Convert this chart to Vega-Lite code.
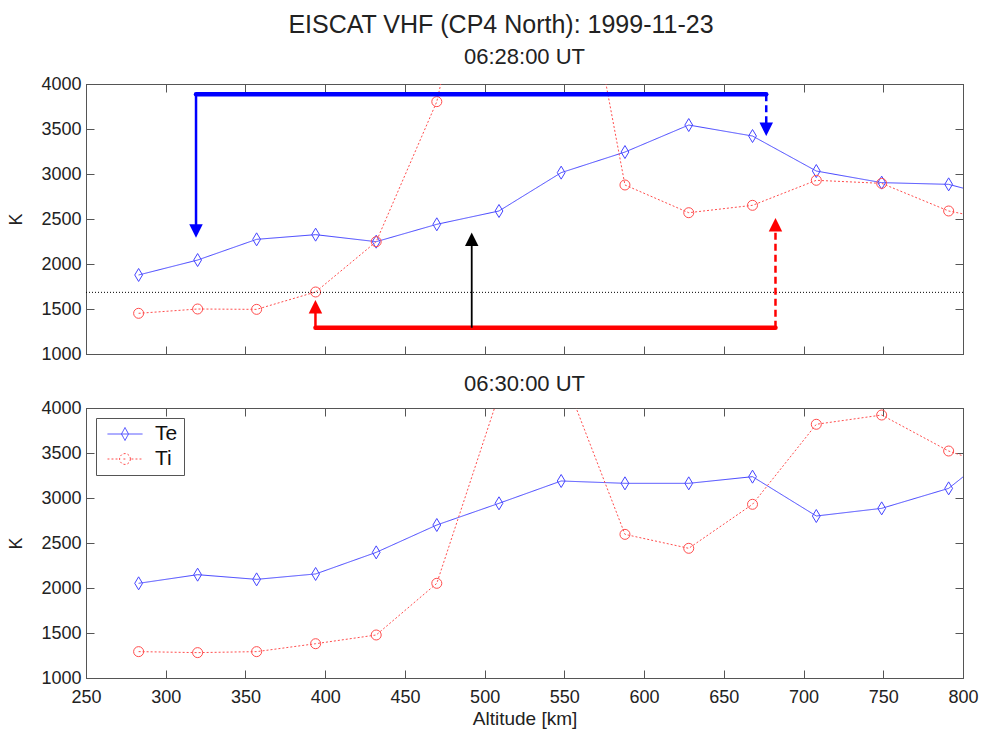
{
  "$schema": "https://vega.github.io/schema/vega-lite/v6.json",
  "background": "white",
  "padding": {"left": 7, "top": 12, "right": 3, "bottom": 0},
  "title": {"text": "EISCAT VHF (CP4 North): 1999-11-23", "fontSize": 25, "fontWeight": "normal", "color": "#222", "dx": 8, "offset": 8, "anchor": "middle"},
  "datasets": {
    "t0628": [
      {"series": "Te", "alt": 283, "K": 1878}, {"series": "Te", "alt": 320, "K": 2044}, {"series": "Te", "alt": 357, "K": 2274},
      {"series": "Te", "alt": 394, "K": 2326}, {"series": "Te", "alt": 432, "K": 2248}, {"series": "Te", "alt": 470, "K": 2441},
      {"series": "Te", "alt": 509, "K": 2589}, {"series": "Te", "alt": 548, "K": 3015}, {"series": "Te", "alt": 588, "K": 3244},
      {"series": "Te", "alt": 628, "K": 3544}, {"series": "Te", "alt": 668, "K": 3422}, {"series": "Te", "alt": 708, "K": 3033},
      {"series": "Te", "alt": 749, "K": 2904}, {"series": "Te", "alt": 791, "K": 2885}, {"series": "Te", "alt": 833, "K": 2690},
      {"series": "Ti", "alt": 283, "K": 1452}, {"series": "Ti", "alt": 320, "K": 1500}, {"series": "Ti", "alt": 357, "K": 1496},
      {"series": "Ti", "alt": 394, "K": 1689}, {"series": "Ti", "alt": 432, "K": 2248}, {"series": "Ti", "alt": 470, "K": 3804},
      {"series": "Ti", "alt": 509, "K": 6900}, {"series": "Ti", "alt": 548, "K": 6650}, {"series": "Ti", "alt": 588, "K": 2878},
      {"series": "Ti", "alt": 628, "K": 2570}, {"series": "Ti", "alt": 668, "K": 2652}, {"series": "Ti", "alt": 708, "K": 2930},
      {"series": "Ti", "alt": 749, "K": 2896}, {"series": "Ti", "alt": 791, "K": 2589}, {"series": "Ti", "alt": 833, "K": 2440}
    ],
    "t0630": [
      {"series": "Te", "alt": 283, "K": 2052}, {"series": "Te", "alt": 320, "K": 2148}, {"series": "Te", "alt": 357, "K": 2096},
      {"series": "Te", "alt": 394, "K": 2156}, {"series": "Te", "alt": 432, "K": 2396}, {"series": "Te", "alt": 470, "K": 2700},
      {"series": "Te", "alt": 509, "K": 2941}, {"series": "Te", "alt": 548, "K": 3189}, {"series": "Te", "alt": 588, "K": 3163},
      {"series": "Te", "alt": 628, "K": 3163}, {"series": "Te", "alt": 668, "K": 3237}, {"series": "Te", "alt": 708, "K": 2800},
      {"series": "Te", "alt": 749, "K": 2885}, {"series": "Te", "alt": 791, "K": 3107}, {"series": "Te", "alt": 833, "K": 3700},
      {"series": "Ti", "alt": 283, "K": 1293}, {"series": "Ti", "alt": 320, "K": 1282}, {"series": "Ti", "alt": 357, "K": 1293},
      {"series": "Ti", "alt": 394, "K": 1381}, {"series": "Ti", "alt": 432, "K": 1478}, {"series": "Ti", "alt": 470, "K": 2052},
      {"series": "Ti", "alt": 509, "K": 4150}, {"series": "Ti", "alt": 548, "K": 4430}, {"series": "Ti", "alt": 588, "K": 2596},
      {"series": "Ti", "alt": 628, "K": 2441}, {"series": "Ti", "alt": 668, "K": 2930}, {"series": "Ti", "alt": 708, "K": 3819},
      {"series": "Ti", "alt": 749, "K": 3922}, {"series": "Ti", "alt": 791, "K": 3522}, {"series": "Ti", "alt": 833, "K": 3270}
    ],
    "refline": [{"K": 1685}],
    "segments": [
      {"seg": "blueH", "x": 319, "x2": 676.6, "y": 3885, "y2": 3885},
      {"seg": "blueL", "x": 319, "x2": 319, "y": 3885, "y2": 2420},
      {"seg": "blueR", "x": 676.6, "x2": 676.6, "y": 3885, "y2": 3560},
      {"seg": "redH", "x": 393.9, "x2": 682.4, "y": 1292, "y2": 1292},
      {"seg": "redL", "x": 393.9, "x2": 393.9, "y": 1292, "y2": 1470},
      {"seg": "redR", "x": 682.4, "x2": 682.4, "y": 1292, "y2": 2380},
      {"seg": "black", "x": 491.9, "x2": 491.9, "y": 1292, "y2": 2220}
    ],
    "heads": [
      {"head": "blue", "x": 319, "y": 2366},
      {"head": "blue", "x": 676.6, "y": 3496},
      {"head": "red", "x": 393.9, "y": 1524},
      {"head": "red", "x": 682.4, "y": 2437},
      {"head": "black", "x": 491.9, "y": 2274}
    ]
  },
  "spacing": 54,
  "bounds": "flush",
  "resolve": {"scale": {"color": "independent", "strokeDash": "independent"}, "legend": {"color": "independent"}},
  "vconcat": [
    {
      "width": 877,
      "height": 270,
      "title": {"text": "06:28:00 UT", "fontSize": 22, "fontWeight": "normal", "color": "#222", "offset": 6},
      "resolve": {"axis": {"x": "independent", "y": "independent"}},
      "layer": [
        {
          "data": {"name": "t0628"},
          "mark": {"type": "line", "strokeWidth": 1, "clip": true},
          "encoding": {
            "x": {"field": "alt", "type": "quantitative", "scale": {"domain": [250, 800], "nice": false, "zero": false},
                  "axis": {"orient": "bottom", "values": [250, 300, 350, 400, 450, 500, 550, 600, 650, 700, 750, 800], "labels": false, "title": null}},
            "y": {"field": "K", "type": "quantitative", "scale": {"domain": [1000, 4000], "nice": false, "zero": false},
                  "axis": {"orient": "left", "values": [1000, 1500, 2000, 2500, 3000, 3500, 4000], "format": "d", "title": "K"}},
            "color": {"field": "series", "type": "nominal", "scale": {"domain": ["Te", "Ti"], "range": ["#4444ff", "#ff4d4d"]}, "legend": null},
            "strokeDash": {"field": "series", "type": "nominal", "scale": {"domain": ["Te", "Ti"], "range": [[1, 0], [2, 2]]}, "legend": null}
          }
        },
        {
          "data": {"name": "t0628"},
          "transform": [{"filter": "datum.series === 'Te'"}],
          "mark": {"type": "point", "shape": "M0,-1L0.6,0L0,1L-0.6,0Z", "size": 169, "filled": false, "color": "#4444ff", "strokeWidth": 1, "opacity": 1, "clip": true},
          "encoding": {
            "x": {"field": "alt", "type": "quantitative", "scale": {"domain": [250, 800], "nice": false, "zero": false},
                  "axis": {"orient": "top", "values": [250, 300, 350, 400, 450, 500, 550, 600, 650, 700, 750, 800], "labels": false, "title": null}},
            "y": {"field": "K", "type": "quantitative", "scale": {"domain": [1000, 4000], "nice": false, "zero": false},
                  "axis": {"orient": "right", "values": [1000, 1500, 2000, 2500, 3000, 3500, 4000], "labels": false, "title": null}}
          }
        },
        {
          "data": {"name": "t0628"},
          "transform": [{"filter": "datum.series === 'Ti'"}],
          "mark": {"type": "point", "shape": "circle", "size": 100, "filled": false, "color": "#ff4d4d", "strokeWidth": 1, "opacity": 1, "clip": true},
          "encoding": {
            "x": {"field": "alt", "type": "quantitative", "scale": {"domain": [250, 800], "nice": false, "zero": false}, "axis": null},
            "y": {"field": "K", "type": "quantitative", "scale": {"domain": [1000, 4000], "nice": false, "zero": false}, "axis": null}
          }
        },
        {
          "data": {"name": "refline"},
          "mark": {"type": "rule", "color": "black", "strokeWidth": 1, "strokeDash": [1, 2]},
          "encoding": {
            "y": {"field": "K", "type": "quantitative", "scale": {"domain": [1000, 4000], "nice": false, "zero": false}, "axis": null}
          }
        },
        {
          "data": {"name": "segments"},
          "transform": [{"filter": "datum.seg === 'blueH'"}],
          "mark": {"type": "rule", "color": "#0000ff", "strokeWidth": 4.5, "strokeCap": "round"},
          "encoding": {
            "x": {"field": "x", "type": "quantitative", "scale": {"domain": [250, 800], "nice": false, "zero": false}, "axis": null},
            "x2": {"field": "x2"},
            "y": {"field": "y", "type": "quantitative", "scale": {"domain": [1000, 4000], "nice": false, "zero": false}, "axis": null},
            "y2": {"field": "y2"}
          }
        },
        {
          "data": {"name": "segments"},
          "transform": [{"filter": "datum.seg === 'blueL'"}],
          "mark": {"type": "rule", "color": "#0000ff", "strokeWidth": 2.5},
          "encoding": {
            "x": {"field": "x", "type": "quantitative", "scale": {"domain": [250, 800], "nice": false, "zero": false}, "axis": null},
            "x2": {"field": "x2"},
            "y": {"field": "y", "type": "quantitative", "scale": {"domain": [1000, 4000], "nice": false, "zero": false}, "axis": null},
            "y2": {"field": "y2"}
          }
        },
        {
          "data": {"name": "segments"},
          "transform": [{"filter": "datum.seg === 'blueR'"}],
          "mark": {"type": "rule", "color": "#0000ff", "strokeWidth": 2.5, "strokeDash": [7, 4]},
          "encoding": {
            "x": {"field": "x", "type": "quantitative", "scale": {"domain": [250, 800], "nice": false, "zero": false}, "axis": null},
            "x2": {"field": "x2"},
            "y": {"field": "y", "type": "quantitative", "scale": {"domain": [1000, 4000], "nice": false, "zero": false}, "axis": null},
            "y2": {"field": "y2"}
          }
        },
        {
          "data": {"name": "segments"},
          "transform": [{"filter": "datum.seg === 'redH'"}],
          "mark": {"type": "rule", "color": "#ff0000", "strokeWidth": 4.5, "strokeCap": "round"},
          "encoding": {
            "x": {"field": "x", "type": "quantitative", "scale": {"domain": [250, 800], "nice": false, "zero": false}, "axis": null},
            "x2": {"field": "x2"},
            "y": {"field": "y", "type": "quantitative", "scale": {"domain": [1000, 4000], "nice": false, "zero": false}, "axis": null},
            "y2": {"field": "y2"}
          }
        },
        {
          "data": {"name": "segments"},
          "transform": [{"filter": "datum.seg === 'redL'"}],
          "mark": {"type": "rule", "color": "#ff0000", "strokeWidth": 2.5},
          "encoding": {
            "x": {"field": "x", "type": "quantitative", "scale": {"domain": [250, 800], "nice": false, "zero": false}, "axis": null},
            "x2": {"field": "x2"},
            "y": {"field": "y", "type": "quantitative", "scale": {"domain": [1000, 4000], "nice": false, "zero": false}, "axis": null},
            "y2": {"field": "y2"}
          }
        },
        {
          "data": {"name": "segments"},
          "transform": [{"filter": "datum.seg === 'redR'"}],
          "mark": {"type": "rule", "color": "#ff0000", "strokeWidth": 2.5, "strokeDash": [7, 4]},
          "encoding": {
            "x": {"field": "x", "type": "quantitative", "scale": {"domain": [250, 800], "nice": false, "zero": false}, "axis": null},
            "x2": {"field": "x2"},
            "y": {"field": "y", "type": "quantitative", "scale": {"domain": [1000, 4000], "nice": false, "zero": false}, "axis": null},
            "y2": {"field": "y2"}
          }
        },
        {
          "data": {"name": "segments"},
          "transform": [{"filter": "datum.seg === 'black'"}],
          "mark": {"type": "rule", "color": "#000000", "strokeWidth": 1.8},
          "encoding": {
            "x": {"field": "x", "type": "quantitative", "scale": {"domain": [250, 800], "nice": false, "zero": false}, "axis": null},
            "x2": {"field": "x2"},
            "y": {"field": "y", "type": "quantitative", "scale": {"domain": [1000, 4000], "nice": false, "zero": false}, "axis": null},
            "y2": {"field": "y2"}
          }
        },
        {
          "data": {"name": "heads"},
          "transform": [{"filter": "datum.head === 'blue'"}],
          "mark": {"type": "point", "shape": "M0,1L1,-1L-1,-1Z", "filled": true, "color": "#0000ff", "size": 182, "opacity": 1, "strokeWidth": 0},
          "encoding": {
            "x": {"field": "x", "type": "quantitative", "scale": {"domain": [250, 800], "nice": false, "zero": false}, "axis": null},
            "y": {"field": "y", "type": "quantitative", "scale": {"domain": [1000, 4000], "nice": false, "zero": false}, "axis": null}
          }
        },
        {
          "data": {"name": "heads"},
          "transform": [{"filter": "datum.head === 'red'"}],
          "mark": {"type": "point", "shape": "M0,-1L1,1L-1,1Z", "filled": true, "color": "#ff0000", "size": 182, "opacity": 1, "strokeWidth": 0},
          "encoding": {
            "x": {"field": "x", "type": "quantitative", "scale": {"domain": [250, 800], "nice": false, "zero": false}, "axis": null},
            "y": {"field": "y", "type": "quantitative", "scale": {"domain": [1000, 4000], "nice": false, "zero": false}, "axis": null}
          }
        },
        {
          "data": {"name": "heads"},
          "transform": [{"filter": "datum.head === 'black'"}],
          "mark": {"type": "point", "shape": "M0,-1L1,1L-1,1Z", "filled": true, "color": "#000000", "size": 182, "opacity": 1, "strokeWidth": 0},
          "encoding": {
            "x": {"field": "x", "type": "quantitative", "scale": {"domain": [250, 800], "nice": false, "zero": false}, "axis": null},
            "y": {"field": "y", "type": "quantitative", "scale": {"domain": [1000, 4000], "nice": false, "zero": false}, "axis": null}
          }
        }
      ]
    },
    {
      "width": 877,
      "height": 270,
      "title": {"text": "06:30:00 UT", "fontSize": 22, "fontWeight": "normal", "color": "#222", "offset": 3},
      "resolve": {"axis": {"x": "independent", "y": "independent"}},
      "layer": [
        {
          "data": {"name": "t0630"},
          "mark": {"type": "line", "strokeWidth": 1, "clip": true},
          "encoding": {
            "x": {"field": "alt", "type": "quantitative", "scale": {"domain": [250, 800], "nice": false, "zero": false},
                  "axis": {"orient": "bottom", "values": [250, 300, 350, 400, 450, 500, 550, 600, 650, 700, 750, 800], "labelPadding": 18, "title": "Altitude [km]"}},
            "y": {"field": "K", "type": "quantitative", "scale": {"domain": [1000, 4000], "nice": false, "zero": false},
                  "axis": {"orient": "left", "values": [1000, 1500, 2000, 2500, 3000, 3500, 4000], "format": "d", "title": "K"}},
            "color": {"field": "series", "type": "nominal", "scale": {"domain": ["Te", "Ti"], "range": ["#4444ff", "#ff4d4d"]},
                      "legend": {
                        "orient": "none", "legendX": 10, "legendY": 10, "title": null, "direction": "vertical",
                        "symbolType": "stroke", "symbolSize": 1225, "clipHeight": 20, "rowPadding": 4, "padding": 6, "symbolOffset": 5,
                        "labelFontSize": 21, "labelColor": "#111", "labelOffset": 12,
                        "strokeColor": "#555", "fillColor": "white", "symbolStrokeWidth": 1,
                        "encode": {"symbols": {"update": {
                          "shape": {"signal": "datum.value === 'Te' ? 'M-1,0L1,0M0,-0.37L0.2,0L0,0.37L-0.2,0Z' : 'M-1,0H-0.89M-0.77,0H-0.66M-0.54,0H-0.43M-0.09,0H0.02M0.37,0H0.48M0.6,0H0.71M0.83,0H0.94M0.31,0A0.31,0.31,0,1,1,-0.31,0A0.31,0.31,0,1,1,0.31,0'"},
                          "fill": {"value": "transparent"},
                          "strokeDash": {"value": [1, 0]}
                        }}}
                      }},
            "strokeDash": {"field": "series", "type": "nominal", "scale": {"domain": ["Te", "Ti"], "range": [[1, 0], [2, 2]]}, "legend": null}
          }
        },
        {
          "data": {"name": "t0630"},
          "transform": [{"filter": "datum.series === 'Te'"}],
          "mark": {"type": "point", "shape": "M0,-1L0.6,0L0,1L-0.6,0Z", "size": 169, "filled": false, "color": "#4444ff", "strokeWidth": 1, "opacity": 1, "clip": true},
          "encoding": {
            "x": {"field": "alt", "type": "quantitative", "scale": {"domain": [250, 800], "nice": false, "zero": false},
                  "axis": {"orient": "top", "values": [250, 300, 350, 400, 450, 500, 550, 600, 650, 700, 750, 800], "labels": false, "title": null}},
            "y": {"field": "K", "type": "quantitative", "scale": {"domain": [1000, 4000], "nice": false, "zero": false},
                  "axis": {"orient": "right", "values": [1000, 1500, 2000, 2500, 3000, 3500, 4000], "labels": false, "title": null}}
          }
        },
        {
          "data": {"name": "t0630"},
          "transform": [{"filter": "datum.series === 'Ti'"}],
          "mark": {"type": "point", "shape": "circle", "size": 100, "filled": false, "color": "#ff4d4d", "strokeWidth": 1, "opacity": 1, "clip": true},
          "encoding": {
            "x": {"field": "alt", "type": "quantitative", "scale": {"domain": [250, 800], "nice": false, "zero": false}, "axis": null},
            "y": {"field": "K", "type": "quantitative", "scale": {"domain": [1000, 4000], "nice": false, "zero": false}, "axis": null}
          }
        }
      ]
    }
  ],
  "config": {
    "font": "Liberation Sans",
    "view": {"stroke": "#555", "strokeWidth": 1},
    "axis": {
      "grid": false, "domainColor": "#555", "tickColor": "#555", "tickSize": -8, "labelPadding": 13,
      "labelFont": "Liberation Sans", "labelFontSize": 18, "labelColor": "#222", "labelFlush": false, "labelOverlap": false,
      "titleFont": "Liberation Sans", "titleFontSize": 18, "titleFontWeight": "normal", "titleColor": "#222"
    },
    "axisY": {"titlePadding": 15},
    "axisX": {"titlePadding": 3, "titleFontSize": 19},
    "title": {"font": "Liberation Sans", "fontWeight": "normal", "color": "#222"},
    "legend": {"labelFont": "Liberation Sans"}
  }
}
